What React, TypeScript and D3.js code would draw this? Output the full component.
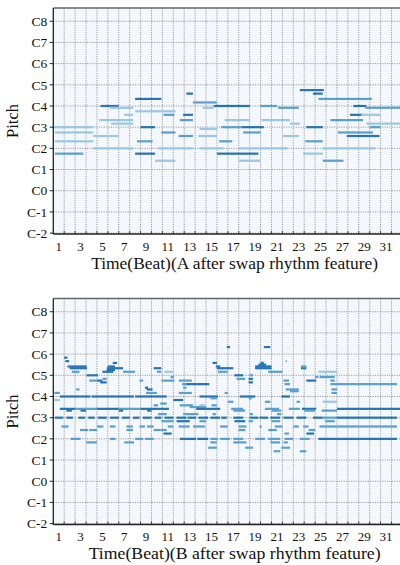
import React from "react";
import * as d3 from "d3";

// [start beat, end beat, MIDI pitch, velocity level 1..3]
const notesA: [number, number, number, number][] = [
  [0, 3.67, 60, 1], [0.15, 3.67, 57, 1], [0.15, 3.67, 52, 1], [0.15, 2.75, 45, 2],
  [3.67, 6, 55, 1], [3.67, 7.33, 48, 1], [4.33, 6, 72, 3], [5.2, 7.33, 71, 1],
  [4.2, 7.33, 64, 1], [5.3, 7.33, 62, 1], [6.5, 7.33, 67, 1], [7.5, 9.9, 76, 3],
  [7.5, 11.2, 69, 1], [8, 9.33, 60, 3], [7.67, 9.1, 52, 2], [7.5, 9.33, 45, 3],
  [9.33, 11.2, 41, 1], [9.9, 11.2, 57, 2], [10.1, 11.1, 67, 2], [9.6, 12.8, 48, 1],
  [11.6, 12.8, 64, 2], [11.9, 12.8, 67, 3], [12.2, 12.8, 79, 3], [11.5, 12.8, 55, 2],
  [12.8, 15, 74, 2], [13.4, 15, 59, 1], [13.3, 15, 55, 1], [13.7, 14.7, 71, 1],
  [13.4, 15.6, 48, 1], [14.7, 18, 72, 3], [15, 18.8, 45, 3], [15.2, 16.4, 52, 2],
  [15.4, 17.3, 60, 2], [17.3, 19.3, 60, 3], [15.7, 18, 64, 1], [17, 19, 41, 1],
  [17.4, 19, 57, 2], [17, 21.5, 48, 1], [19, 20.5, 72, 2], [19.1, 21.7, 64, 1],
  [20.6, 22.5, 71, 2], [21, 22.5, 55, 1], [21.7, 22.6, 62, 1], [22.6, 24.8, 81, 3],
  [23.8, 24.7, 79, 3], [23.2, 24.7, 60, 3], [23.1, 24.7, 52, 2], [22.9, 24.7, 45, 1],
  [24.3, 29.2, 76, 2], [24.7, 26.6, 41, 2], [24.7, 29.5, 48, 1], [25.4, 28.4, 64, 2],
  [27.2, 28.4, 67, 3], [28.2, 30, 67, 1], [26.1, 29.3, 57, 2], [26.9, 29.9, 55, 3],
  [27.5, 28.7, 72, 3], [28.6, 32, 71, 2], [28.7, 32, 62, 1], [29, 30, 60, 2],
];

const notesB: [number, number, number, number][] = [
  // upper melody
  [0.1, 0.6, 74, 2], [0.1, 0.6, 70, 1], [1.0, 1.3, 94, 3], [1.1, 1.45, 92, 3],
  [1.3, 3.05, 89, 3], [1.5, 3.1, 88, 3], [1.7, 2.4, 86, 2], [2.1, 2.4, 76, 2],
  [3.05, 4.1, 84, 3], [3.3, 4.0, 81, 2], [4.0, 4.5, 81, 3], [4.3, 4.9, 80, 3],
  [4.5, 4.9, 82, 2], [4.9, 5.65, 87, 3], [5.0, 5.65, 89, 3], [5.45, 5.85, 91, 3],
  [4.9, 6.4, 88, 3], [4.5, 5.5, 86, 3], [6.4, 7.5, 86, 2], [7.9, 8.25, 81, 2],
  [8.4, 8.7, 77, 3], [8.55, 9.1, 76, 3], [9.2, 9.9, 88, 3], [9.5, 9.9, 86, 2],
  [9.9, 11.1, 81, 2], [10.75, 11.05, 83, 2], [10.2, 11.0, 86, 1], [11.5, 12.7, 81, 2],
  [11.8, 12.4, 79, 2], [12.2, 14.3, 79, 3], [14.6, 15.0, 91, 3], [14.9, 15.3, 89, 3],
  [15.0, 16.5, 88, 3], [15.1, 16.0, 86, 2], [15.9, 16.2, 100, 3], [16.6, 17.4, 84, 3],
  [16.8, 17.6, 82, 2], [18.0, 18.3, 84, 2], [17.9, 18.3, 82, 3], [17.9, 18.3, 80, 3],
  [18.5, 20.0, 89, 3], [18.5, 20.0, 88, 3], [18.8, 19.5, 90, 3], [19.0, 19.3, 91, 3],
  [19.3, 19.9, 100, 3], [19.7, 21.0, 86, 2], [21.3, 21.4, 92, 2], [21.1, 21.6, 81, 2],
  [21.2, 21.7, 79, 2], [21.3, 22.5, 76, 2], [21.7, 22.5, 75, 2], [22.7, 23.2, 88, 3],
  [22.7, 23.2, 89, 2], [23.2, 24.1, 81, 3], [24.0, 24.3, 83, 2], [24.3, 26.0, 86, 1],
  [24.4, 25.8, 83, 2], [25.4, 25.8, 81, 2], [25.4, 26.0, 79, 2], [25.5, 26.0, 76, 2],
  [25.5, 26.0, 74, 2], [26.0, 31.5, 79, 2],
  // C4 region
  [0.6, 3.4, 72, 3], [3.5, 7.4, 72, 3], [7.5, 10.4, 72, 3], [8.5, 9.5, 74, 2],
  [11.5, 12.7, 74, 2], [11.9, 12.2, 77, 2], [11.0, 11.9, 70, 3], [13.4, 15.1, 72, 3],
  [14.4, 15.0, 71, 2], [15.7, 16.0, 74, 2], [16.0, 16.5, 69, 2], [17.1, 18.5, 72, 3],
  [17.9, 18.2, 71, 2], [19.4, 19.9, 69, 2], [20.9, 21.7, 72, 3], [22.3, 22.6, 69, 2],
  [24.7, 26.0, 69, 1], [9.8, 10.4, 68, 2], [9.2, 9.6, 67, 2], [11.6, 12.8, 67, 2],
  [12.5, 14.0, 66, 2], [14.5, 15.0, 67, 2], [13.4, 13.9, 67, 1],
  // F3 region
  [0.6, 2.0, 65, 3], [2.0, 4.0, 65, 2], [4.0, 6.0, 65, 3], [6.0, 8.0, 65, 2],
  [8.0, 10.6, 65, 3], [13.1, 15.3, 65, 3], [16.3, 17.4, 65, 2], [19.4, 20.7, 65, 2],
  [21.6, 22.6, 65, 2], [22.8, 24.1, 65, 3], [26.0, 32.0, 65, 3],
  [1.2, 1.7, 64, 3], [2.5, 3.0, 64, 3], [6.0, 6.4, 64, 3], [8.6, 9.0, 64, 3],
  [16.5, 17.6, 64, 2], [20.0, 20.9, 64, 2], [23.0, 24.0, 64, 2], [24.6, 26.0, 64, 2],
  [9.6, 10.4, 62, 2], [11.9, 13.3, 62, 2], [14.6, 14.9, 62, 2], [18.0, 18.3, 62, 2],
  [20.5, 20.9, 62, 2],
  // C3 repeated
  [0.15, 0.9, 60, 3], [1.2, 1.8, 60, 3], [2.3, 2.9, 60, 3], [3.2, 3.8, 60, 3],
  [4.1, 4.9, 60, 3], [5.2, 6.0, 60, 3], [6.3, 7.0, 60, 3], [7.3, 7.9, 60, 3],
  [8.2, 9.0, 60, 3], [9.3, 9.9, 60, 3], [10.2, 11.0, 60, 3], [11.3, 12.2, 60, 3],
  [12.3, 13.1, 60, 3], [13.3, 14.2, 60, 3], [14.4, 15.3, 60, 3], [15.4, 15.9, 60, 3],
  [16.5, 17.4, 60, 3], [18.0, 18.8, 60, 3], [18.9, 19.7, 60, 3], [19.9, 20.8, 60, 3],
  [21.1, 22.0, 60, 3], [22.3, 23.2, 60, 3], [23.8, 24.7, 60, 3], [24.7, 26.0, 60, 2],
  [26.0, 31.5, 60, 3],
  // lower voices
  [9.9, 11.0, 58, 2], [11.3, 12.5, 58, 3], [13.4, 14.0, 58, 2], [16.6, 17.6, 58, 3],
  [17.9, 18.3, 58, 2], [20.0, 20.8, 58, 2], [24.9, 25.8, 58, 2],
  [0.75, 1.4, 55, 2], [4.0, 4.6, 55, 2], [5.2, 5.7, 55, 2], [6.7, 7.3, 55, 2],
  [7.9, 8.4, 55, 2], [8.6, 9.2, 55, 2], [10.5, 11.0, 55, 2], [11.5, 12.5, 55, 2],
  [12.8, 13.9, 55, 2], [15.3, 16.0, 55, 2], [17.0, 17.7, 55, 2], [18.9, 19.1, 55, 2],
  [20.3, 21.0, 55, 2], [22.0, 22.5, 55, 2], [22.9, 23.4, 55, 2], [24.4, 26.0, 55, 2],
  [26.0, 31.5, 55, 2],
  [2.45, 3.2, 53, 2], [3.3, 4.0, 53, 2], [6.7, 7.3, 53, 2], [9.2, 9.8, 53, 2],
  [9.8, 10.4, 53, 2], [17.0, 17.6, 53, 2], [19.7, 20.5, 53, 2], [23.4, 24.0, 53, 2],
  [10.1, 10.85, 51, 3], [21.2, 21.6, 51, 2], [23.2, 23.9, 51, 3],
  [1.6, 2.5, 48, 2], [5.2, 5.7, 48, 2], [7.5, 8.25, 48, 2], [8.4, 9.2, 48, 2],
  [11.6, 13.1, 48, 3], [13.2, 14.2, 48, 3], [14.4, 15.1, 48, 2], [15.3, 16.2, 48, 2],
  [16.5, 17.4, 48, 2], [18.5, 19.4, 48, 2], [19.7, 20.8, 48, 2], [21.2, 22.0, 48, 2],
  [22.6, 23.5, 48, 2], [24.3, 26.0, 48, 3], [26.0, 31.5, 48, 3],
  [3.0, 4.0, 46, 2], [6.5, 7.4, 46, 2], [14.4, 15.0, 46, 2], [16.5, 17.7, 46, 2],
  [19.9, 20.8, 46, 2], [21.1, 21.5, 46, 2],
  [14.2, 15.0, 43, 2], [17.6, 18.3, 43, 2], [20.9, 21.7, 43, 2],
  [20.2, 20.8, 41, 2], [22.6, 23.2, 41, 2],
];

const pitchTicks = [0, 12, 24, 36, 48, 60, 72, 84, 96, 108, 120];
const pitchLabels = ["C-2", "C-1", "C0", "C1", "C2", "C3", "C4", "C5", "C6", "C7", "C8"];
const beatLabels = [1, 3, 5, 7, 9, 11, 13, 15, 17, 19, 21, 23, 25, 27, 29, 31];
const xLabels = [
  "Time(Beat)(A after swap rhythm feature)",
  "Time(Beat)(B after swap rhythm feature)",
];

const FONT = "'Liberation Serif', 'DejaVu Serif', serif";
const LEFT = 53.3;
const RIGHT = 402.4;
const PH = 226;

const velColor = (v: number) => d3.interpolateBlues(v === 1 ? 0.38 : v === 2 ? 0.56 : 0.74);

function Panel({ top, notes, label, labelW }: { top: number; notes: [number, number, number, number][]; label: string; labelW: number }) {
  const x = d3.scaleLinear().domain([0, 32]).range([LEFT, RIGHT]);
  const y = d3.scaleLinear().domain([-0.5, 127.5]).range([top + PH, top]);
  const beats = d3.range(0, 33);
  const clipId = "clip" + Math.round(top);
  return (
    <g>
      <defs>
        <clipPath id={clipId}>
          <rect x={LEFT} y={top} width={RIGHT - LEFT} height={PH} />
        </clipPath>
      </defs>
      <rect x={LEFT} y={top} width={RIGHT - LEFT} height={PH} fill="#f4f8fc" />
      <g clipPath={`url(#${clipId})`}>
        {beats.map((b) => (
          <line key={"v" + b} x1={x(b)} x2={x(b)} y1={top} y2={top + PH}
            stroke="#858585" strokeWidth={0.8} strokeDasharray="1.2,1.2" />
        ))}
        {pitchTicks.map((p) => (
          <line key={"h" + p} x1={LEFT} x2={RIGHT} y1={y(p)} y2={y(p)}
            stroke="#858585" strokeWidth={0.8} strokeDasharray="1.2,1.2" />
        ))}
        {notes.map((n, i) => (
          <rect key={i} x={x(n[0])} width={Math.max(1, x(n[1]) - x(n[0]))}
            y={y(n[2]) - 1.1} height={2.2} fill={velColor(n[3])} />
        ))}
      </g>
      <line x1={LEFT} x2={RIGHT} y1={top} y2={top} stroke="#666" strokeWidth={1.6} />
      <line x1={LEFT} x2={LEFT} y1={top} y2={top + PH} stroke="#222" strokeWidth={1.3} />
      <line x1={LEFT} x2={RIGHT} y1={top + PH} y2={top + PH} stroke="#222" strokeWidth={1.3} />
      {pitchTicks.map((p, i) => (
        <g key={"yt" + p}>
          <line x1={LEFT - 3.5} x2={LEFT} y1={y(p)} y2={y(p)} stroke="#222" strokeWidth={1} />
          <text x={LEFT - 6} y={y(p)} dy="0.35em" textAnchor="end" fontSize={13.5}
            fontFamily={FONT} fill="#111">{pitchLabels[i]}</text>
        </g>
      ))}
      {beats.map((b) => (
        <line key={"xt" + b} x1={x(b)} x2={x(b)} y1={top + PH} y2={top + PH - 3}
          stroke="#222" strokeWidth={0.8} />
      ))}
      {beatLabels.map((b) => (
        <text key={"xl" + b} x={x(b - 0.5)} y={top + PH + 16.5} textAnchor="middle"
          fontSize={13} fontFamily={FONT} fill="#111">{b}</text>
      ))}
      <text x={(LEFT + 380) / 2 + 18} y={top + PH + 34.5} textAnchor="middle" fontSize={16}
        fontFamily={FONT} fill="#111" textLength={labelW} lengthAdjust="spacingAndGlyphs">{label}</text>
      <text transform={`translate(18,${top + PH / 2}) rotate(-90)`} textAnchor="middle"
        fontSize={16.5} fontFamily={FONT} fill="#111">Pitch</text>
    </g>
  );
}

export default function App() {
  return (
    <svg width={400} height={565} style={{ position: "absolute", left: 0, top: 0, background: "#fff" }}>
      <Panel top={8} notes={notesA} label={xLabels[0]} labelW={287} />
      <Panel top={298.5} notes={notesB} label={xLabels[1]} labelW={292} />
    </svg>
  );
}
